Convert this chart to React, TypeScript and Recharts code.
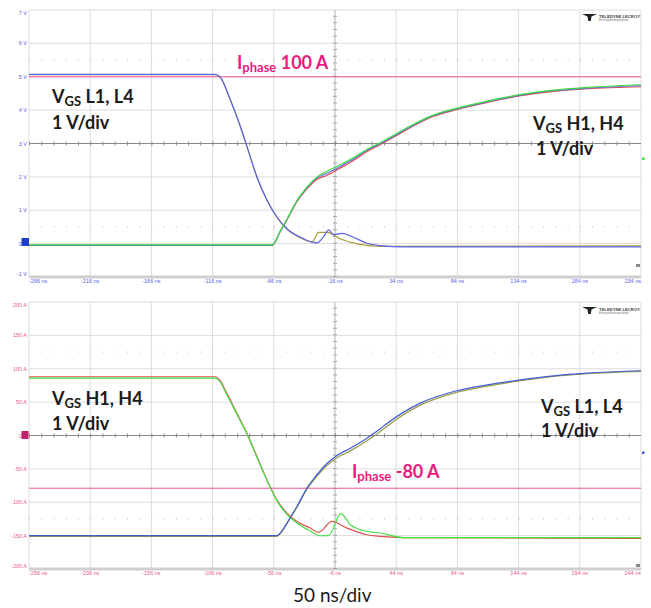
import React from 'react';
import { LineChart, Line, XAxis, YAxis, CartesianGrid, ReferenceLine } from 'recharts';

// ---------- Top panel (V) ----------
const topTicksX = [-266, -216, -166, -116, -66, -16, 34, 84, 134, 184, 234];
const topTicksY = [-1, 0, 1, 2, 3, 4, 5, 6, 7];

const topLBlueT = [-266, -114, -110, -101.5, -93.3, -87.8, -79.7, -71.5, -63.3, -55.1, -44.2, -35, -30.6, -25.5, -21.1, -17, -10.1, -0.9, 10.3, 21.2, 40, 234];
const topLBlueV = [5.07, 5.07, 5.0, 4.31, 3.51, 2.9, 1.99, 1.3, 0.79, 0.44, 0.19, 0.05, 0.02, 0.2, 0.41, 0.27, 0.31, 0.19, 0.01, -0.06, -0.1, -0.1];
const topLOliveT = [-266, -114, -110, -101.5, -93.3, -87.8, -79.7, -71.5, -63.3, -55.1, -44.2, -34.7, -29.3, -22.4, -11.5, 2.2, 21.2, 234];
const topLOliveV = [5.06, 5.06, 4.99, 4.3, 3.5, 2.89, 1.98, 1.29, 0.78, 0.43, 0.18, 0.05, 0.34, 0.34, 0.14, -0.01, -0.08, -0.07];

const topHT = [-266, -67.4, -60.6, -55.1, -46.9, -38.8, -30.6, -22.4, -11.5, -0.6, 10.3, 21.2, 40.3, 62.1, 84, 108.5, 135.8, 162.8, 190.4, 234];
const topHGreenV = [-0.04, -0.04, 0.39, 0.74, 1.3, 1.7, 2.0, 2.17, 2.37, 2.58, 2.83, 3.03, 3.42, 3.82, 4.06, 4.27, 4.47, 4.6, 4.68, 4.76];
const topHBlueV = [-0.05, -0.05, 0.38, 0.73, 1.29, 1.68, 1.97, 2.11, 2.32, 2.54, 2.8, 3.0, 3.39, 3.8, 4.04, 4.25, 4.45, 4.58, 4.66, 4.73];
const topHRedV = [-0.05, -0.05, 0.37, 0.72, 1.27, 1.65, 1.93, 2.05, 2.27, 2.5, 2.76, 2.97, 3.37, 3.78, 4.02, 4.23, 4.43, 4.56, 4.64, 4.7];

const topPhaseT = [-266, 234];
const topPhaseV = [5.0, 5.0];

// ---------- Bottom panel (A) ----------
const botTicksX = [-256, -206, -156, -106, -56, -6, 44, 94, 144, 194, 244];
const botTicksY = [-200, -150, -100, -50, 0, 50, 100, 150, 200];

const botHRedT = [-256, -104, -100, -95.7, -86.2, -78, -69.8, -61.6, -53.5, -45.3, -37.1, -26.2, -19.4, -8.5, 3.8, 20.1, 31, 49.8, 244];
const botHRedV = [88, 88, 83, 68, 33.5, 3.6, -31.4, -66.3, -96.3, -116.2, -128.7, -138.7, -145.2, -128.7, -138.7, -148.7, -151.2, -153, -154];
const botHGreenT = [-256, -104, -100, -95.7, -86.2, -78, -69.8, -61.6, -53.5, -45.3, -37.1, -26.2, -18.1, -11.3, -1.1, 6.5, 20.1, 31, 49.8, 244];
const botHGreenV = [86, 86, 81, 66, 32, 2.5, -32.5, -67, -97.5, -118, -131, -143, -150.2, -150, -117, -133.7, -143.7, -146.1, -153, -153];

const botLT = [-256, -53.5, -49, -45.3, -37.1, -28.9, -20.7, -12.6, -4.4, 6.5, 20.1, 31, 36.5, 63.7, 91, 118.3, 145.5, 172.7, 200, 244];
const botLBlueV = [-150, -150, -142, -131.2, -106.3, -78.8, -58.8, -42, -30, -19, -4, 10, 18, 48.5, 65.9, 75.9, 83.4, 89.4, 93.4, 97];
const botLOliveV = [-151, -151, -143, -132, -107.5, -80.5, -61, -45, -33.5, -23, -8, 6, 14, 45.5, 63.5, 74, 82, 88.5, 92.5, 96];

const botPhaseT = [-256, 244];
const botPhaseV = [-79, -79];

const zip = (t: number[], v: number[]) => t.map((x, i) => ({ t: x, v: v[i] }));

const TOP_TICK = '#5a62e8';
const BOT_TICK = '#e85a92';

const makeXTick = (ticks: number[], fill: string) => (props: any) => {
  const { x, y, payload } = props;
  const val = payload.value;
  const anchor = val === ticks[0] ? 'start' : val === ticks[ticks.length - 1] ? 'end' : 'middle';
  return (
    <text x={x} y={y} dy={4} fontSize={5.5} fill={fill} textAnchor={anchor} fontFamily="Liberation Sans">
      {val} ns
    </text>
  );
};

const makeYTick = (ticks: number[], fill: string, unit: string) => (props: any) => {
  const { x, y, payload } = props;
  const val = payload.value;
  const dy = val === ticks[ticks.length - 1] ? 4.5 : val === ticks[0] ? -1.5 : 2;
  return (
    <text x={x} y={y} dy={dy} fontSize={5.5} fill={fill} textAnchor="end" fontFamily="Liberation Sans">
      {val} {unit}
    </text>
  );
};

const GRID = '#dcdcdc';

const Panel = (props: {
  top: number;
  ticksX: number[];
  ticksY: number[];
  tickFill: string;
  unit: string;
  center: number;
  dotted: number[];
  centerX: number;
  children: React.ReactNode;
}) => {
  const { ticksX, ticksY } = props;
  return (
    <div style={{ position: 'absolute', left: 0, top: props.top }}>
      <LineChart width={651} height={295} margin={{ top: 10, right: 10, bottom: 6, left: 0 }}>
        <CartesianGrid stroke={GRID} strokeWidth={1} />
        <XAxis
          type="number"
          dataKey="t"
          domain={[ticksX[0], ticksX[ticksX.length - 1]]}
          ticks={ticksX}
          allowDataOverflow
          height={12}
          tickSize={0}
          tickMargin={2}
          axisLine={false}
          tickLine={false}
          interval={0}
          tick={makeXTick(ticksX, props.tickFill)}
        />
        <YAxis
          type="number"
          dataKey="v"
          domain={[ticksY[0], ticksY[ticksY.length - 1]]}
          ticks={ticksY}
          allowDataOverflow
          width={29}
          tickSize={0}
          tickMargin={2}
          axisLine={false}
          tickLine={false}
          interval={0}
          tick={makeYTick(ticksY, props.tickFill, props.unit)}
        />
        <ReferenceLine y={ticksY[0]} stroke="#cfcfcf" strokeWidth={3} />
        {props.dotted.map((d) => (
          <ReferenceLine key={d} y={d} stroke="#b8b8b8" strokeWidth={1} strokeDasharray="1 11.24" />
        ))}
        <ReferenceLine x={props.centerX} stroke="#c4c4c4" strokeWidth={1} />
        <ReferenceLine x={props.centerX} stroke="#a8a8a8" strokeWidth={4} strokeDasharray="1 5.675" />
        <ReferenceLine y={props.center} stroke="#8a8a8a" strokeWidth={1} />
        <ReferenceLine y={props.center} stroke="#8a8a8a" strokeWidth={4} strokeDasharray="1 11.24" />
        {props.children}
      </LineChart>
    </div>
  );
};

const S = (data: any[], color: string, w = 1.2) => (
  <Line
    data={data}
    dataKey="v"
    type="monotone"
    stroke={color}
    strokeWidth={w}
    dot={false}
    isAnimationActive={false}
    legendType="none"
  />
);

const Logo = ({ y }: { y: number }) => (
  <g>
    <path d={`M582 ${y} L597 ${y} L591.5 ${y + 2.5} L590.8 ${y + 7} L588.2 ${y + 7} L587.5 ${y + 2.5} Z`} fill="#222" />
    <text x={599} y={y + 3.5} fontSize={4.2} fill="#444" fontFamily="Liberation Sans" fontWeight={700}>TELEDYNE LECROY</text>
    <text x={599} y={y + 7} fontSize={3.4} fill="#777" fontFamily="Liberation Sans">Everywhereyoulook</text>
  </g>
);

const BOLD = { fontFamily: 'Lato', fontWeight: 700 } as const;

export default function App() {
  return (
    <div style={{ position: 'absolute', left: 0, top: 0, width: 651, height: 608, background: '#fff', overflow: 'hidden' }}>
      <Panel top={0} ticksX={topTicksX} ticksY={topTicksY} tickFill={TOP_TICK} unit="V" center={3} dotted={[5.5, 0.5]} centerX={-16}>
        {S(zip(topPhaseT, topPhaseV), '#f0549c', 1)}
        {S(zip(topLOliveT, topLOliveV), '#a89c3a')}
        {S(zip(topLBlueT, topLBlueV), '#5c64ea')}
        {S(zip(topHT, topHRedV), '#e04848')}
        {S(zip(topHT, topHBlueV), '#6470e0')}
        {S(zip(topHT, topHGreenV), '#3fdc3f')}
      </Panel>
      <Panel top={292} ticksX={botTicksX} ticksY={botTicksY} tickFill={BOT_TICK} unit="A" center={0} dotted={[125, -125]} centerX={-6}>
        {S(zip(botPhaseT, botPhaseV), '#f0549c', 1)}
        {S(zip(botHRedT, botHRedV), '#e05050')}
        {S(zip(botHGreenT, botHGreenV), '#44e044')}
        {S(zip(botLT, botLOliveV), '#9c9a44')}
        {S(zip(botLT, botLBlueV), '#3f5ed4')}
      </Panel>
      <svg width={651} height={608} style={{ position: 'absolute', left: 0, top: 0, pointerEvents: 'none' }}>
        <Logo y={14} />
        <Logo y={307} />
        {/* channel markers */}
        <rect x={21.5} y={238} width={7.5} height={8} fill="#1f3fc8" />
        <rect x={21.5} y={431} width={7} height={8} fill="#c2206c" />
        <rect x={642} y={157.5} width={2.5} height={2.5} fill="#3fdc3f" />
        <rect x={642} y={451.5} width={2.5} height={2.5} fill="#3f5ed4" />
        <rect x={636} y={264} width={4} height={3} fill="#888" />
        <rect x={636} y={564} width={4} height={3} fill="#888" />

        <text x={237} y={68.5} fontSize={18} fill="#ea1b80" {...BOLD}>
          I<tspan fontSize={13} dy={3}>phase</tspan>
          <tspan dy={-3}> 100 A</tspan>
        </text>
        <text x={52} y={103} fontSize={18} fill="#1a1a1a" {...BOLD}>
          V<tspan fontSize={13} dy={3}>GS</tspan>
          <tspan dy={-3}> L1, L4</tspan>
        </text>
        <text x={52} y={128.5} fontSize={18} fill="#1a1a1a" {...BOLD}>1 V/div</text>
        <text x={533} y={130} fontSize={18} fill="#1a1a1a" {...BOLD}>
          V<tspan fontSize={13} dy={3}>GS</tspan>
          <tspan dy={-3}> H1, H4</tspan>
        </text>
        <text x={536} y={155} fontSize={18} fill="#1a1a1a" {...BOLD}>1 V/div</text>

        <text x={52} y={405} fontSize={18} fill="#1a1a1a" {...BOLD}>
          V<tspan fontSize={13} dy={3}>GS</tspan>
          <tspan dy={-3}> H1, H4</tspan>
        </text>
        <text x={52} y={430} fontSize={18} fill="#1a1a1a" {...BOLD}>1 V/div</text>
        <text x={541} y={413} fontSize={18} fill="#1a1a1a" {...BOLD}>
          V<tspan fontSize={13} dy={3}>GS</tspan>
          <tspan dy={-3}> L1, L4</tspan>
        </text>
        <text x={541} y={437} fontSize={18} fill="#1a1a1a" {...BOLD}>1 V/div</text>
        <text x={352} y={478} fontSize={18} fill="#ea1b80" {...BOLD}>
          I<tspan fontSize={13} dy={3}>phase</tspan>
          <tspan dy={-3}> -80 A</tspan>
        </text>

        <text x={293} y={602} fontSize={19} fill="#1a1a1a" fontFamily="Lato">50 ns/div</text>
      </svg>
    </div>
  );
}
